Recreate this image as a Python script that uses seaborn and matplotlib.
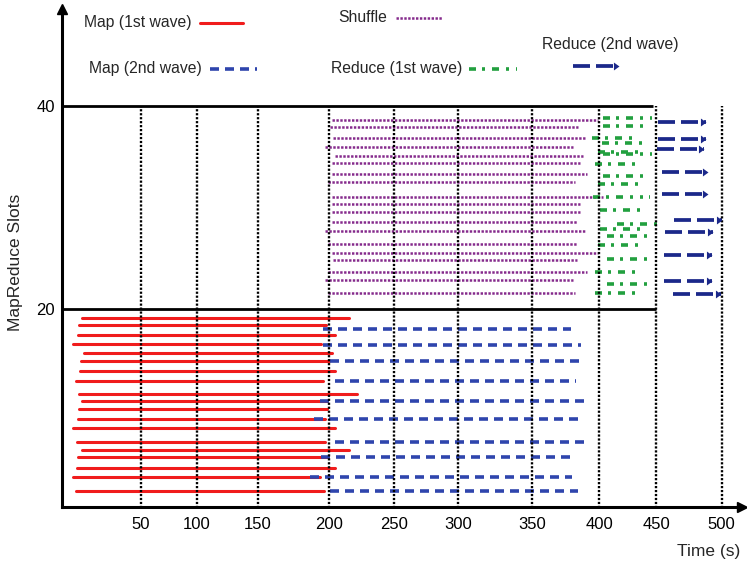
import numpy as np
import pandas as pd
import matplotlib
matplotlib.use("Agg")
import matplotlib.pyplot as plt
from matplotlib.lines import Line2D
from matplotlib.path import Path
import seaborn as sns

# ---------------- task timelines (time in s, slot index) ----------------
map1_slot = [19.08, 18.42, 17.43, 16.52, 15.63, 14.88, 13.86, 12.94, 11.60, 10.94,
             10.19, 9.17, 8.28, 6.90, 6.12, 5.41, 4.39, 3.50, 2.12]
map1_start = [12.4, 10.9, 10.2, 7.0, 13.8, 11.9, 11.3, 8.5, 10.9, 12.8,
              10.9, 10.2, 7.0, 9.6, 12.4, 10.2, 9.6, 6.6, 8.7]
map1_end = [215.6, 197.9, 204.6, 194.2, 202.1, 200.2, 204.6, 196.0, 221.8, 198.4,
            198.4, 197.2, 204.6, 197.2, 215.6, 198.4, 204.6, 193.7, 196.5]

map2_slot = [18.02, 16.45, 14.88, 12.94, 10.94, 9.14, 6.88, 5.41, 3.50, 2.09]
map2_start = [196.0, 196.0, 200.8, 204.6, 193.4, 189.6, 204.6, 194.2, 186.8, 200.8]
map2_end = [379.1, 386.5, 388.7, 382.8, 391.7, 388.0, 390.0, 379.1, 379.8, 384.3]

shuffle_slot = [38.57, 37.86, 36.77, 35.95, 35.06, 34.32, 33.26, 32.45, 31.03, 30.31,
                29.56, 28.57, 27.69, 26.35, 25.53, 24.81, 23.66, 22.84, 21.59]
shuffle_start = [202.1, 200.8, 203.3, 197.2, 204.6, 202.1, 202.1, 199.5, 202.1, 202.1,
                 202.1, 202.1, 197.2, 199.5, 202.1, 203.3, 199.5, 197.2, 199.5]
shuffle_end = [399.3, 384.5, 389.4, 380.8, 388.2, 385.7, 390.7, 382.0, 403.5, 385.7,
               385.7, 383.3, 389.4, 383.3, 399.3, 383.3, 390.7, 380.8, 382.0]

reduce1_slot = [38.74, 38.01, 36.83, 36.34, 35.46, 35.20, 34.22, 33.10, 32.25, 31.03,
                29.72, 28.35, 27.86, 27.17, 26.25, 24.91, 23.66, 22.42, 21.59]
reduce1_start = [403.5, 403.5, 394.4, 402.1, 399.3, 403.5, 396.8, 403.5, 399.3, 395.6,
                 400.6, 415.3, 400.6, 406.5, 399.3, 406.5, 396.8, 406.5, 396.8]
reduce1_end = [446.2, 444.7, 434.4, 443.2, 438.8, 446.2, 435.9, 444.7, 435.9, 444.7,
               441.8, 455.6, 441.8, 444.7, 440.3, 447.6, 437.4, 447.6, 437.4]

reduce2_slot = [38.35, 36.71, 35.72, 33.49, 31.27, 28.74, 27.56, 25.30, 22.77, 21.47]
reduce2_start = [451.8, 451.8, 451.0, 454.3, 454.3, 463.7, 456.8, 456.1, 456.1, 463.2]
reduce2_end = [487.8, 487.8, 486.5, 489.7, 489.7, 500.0, 493.0, 492.2, 492.2, 499.2]

phases = ["Map (1st wave)", "Map (2nd wave)", "Shuffle",
          "Reduce (1st wave)", "Reduce (2nd wave)"]

x_ticks = [50, 100, 150, 200, 250, 300, 350, 400, 450, 500]
x_tick_labels = [str(t) for t in x_ticks]
y_ticks = [20, 40]
y_tick_labels = ["20", "40"]
wave_bounds = [20, 40]

# hand-spaced time axis: screen offset (px) of every 50 s mark
knot_time = [-50, 0, 50, 100, 150, 200, 250, 300, 350, 400, 450, 500, 550]
knot_px = [-78.4, 0.0, 78.4, 134.4, 195.7, 266.7, 331.7, 395.4, 469.4,
           537.0, 593.7, 659.4, 725.1]


def t_forward(t):
    return np.interp(t, knot_time, knot_px)


def t_inverse(p):
    return np.interp(p, knot_px, knot_time)


# ---------------- long-form table ----------------
def segments(phase, starts, ends, slots):
    rows = []
    for i, (s, e, y) in enumerate(zip(starts, ends, slots)):
        rows.append(dict(phase=phase, task=f"{phase}#{i}", time=s, slot=y))
        rows.append(dict(phase=phase, task=f"{phase}#{i}", time=e, slot=y))
    return rows


df = pd.DataFrame(
    segments(phases[0], map1_start, map1_end, map1_slot)
    + segments(phases[1], map2_start, map2_end, map2_slot)
    + segments(phases[2], shuffle_start, shuffle_end, shuffle_slot)
    + segments(phases[3], reduce1_start, reduce1_end, reduce1_slot)
    + segments(phases[4], reduce2_start, reduce2_end, reduce2_slot)
)

# ---------------- styling ----------------
sns.set_theme(style="white")
plt.rcParams["font.family"] = ["Liberation Sans", "DejaVu Sans"]

W, H = 747, 564
PT = 0.72  # points per pixel at 100 dpi


def dash(px_pattern, lw):
    return (0, tuple(p * PT / lw for p in px_pattern))


styles = {
    "Map (1st wave)": dict(color="#f01c1c", lw=2.2, ls="-"),
    "Map (2nd wave)": dict(color="#2f45ad", lw=2.6, ls=dash([9.0, 6.0], 2.6)),
    "Shuffle": dict(color="#852a8c", lw=1.8, ls=dash([2.4, 1.5], 1.8)),
    "Reduce (1st wave)": dict(color="#22a03f", lw=2.6,
                              ls=dash([7, 6, 3, 7, 7, 7, 3, 7, 3, 6], 2.6)),
    "Reduce (2nd wave)": dict(color="#1b288a", lw=2.7, ls=dash([17, 6], 2.7)),
}

# arrow head with its tip at the data point
head = Path([(0.0, 0.0), (-0.7, 0.5), (-0.7, -0.5), (0.0, 0.0)],
            [Path.MOVETO, Path.LINETO, Path.LINETO, Path.CLOSEPOLY])

fig = plt.figure(figsize=(W / 100, H / 100), dpi=100)
ax_left, ax_right, ax_bottom_px, ax_top_px = 62.3, 742.0, 506.7, 9.0
ax = fig.add_axes([ax_left / W, 1 - ax_bottom_px / H,
                   (ax_right - ax_left) / W, (ax_bottom_px - ax_top_px) / H])
ax.set_xscale("function", functions=(t_forward, t_inverse))

for ph in phases:
    st = styles[ph]
    sns.lineplot(data=df[df["phase"] == ph], x="time", y="slot", units="task",
                 estimator=None, sort=False, color=st["color"], linewidth=st["lw"],
                 linestyle=st["ls"], ax=ax, legend=False, zorder=2)

sns.scatterplot(x=reduce2_end, y=reduce2_slot, marker=head, s=64,
                color=styles["Reduce (2nd wave)"]["color"], linewidth=0,
                ax=ax, zorder=4, legend=False)

# dotted time grid and the wave boxes
ax.vlines(x_ticks, 0, 40, colors="black", linewidth=1.7,
          linestyles=[(0, (0.93, 0.75))], zorder=3)
ax.hlines(wave_bounds, 0, [450, 447], colors="black", linewidth=2.0, zorder=3)

ax.set_xlim(0, 515.4)
ax.set_ylim(0.55, 49.49)
ax.set_xticks(x_ticks)
ax.set_xticklabels(x_tick_labels)
ax.set_yticks(y_ticks)
ax.set_yticklabels(y_tick_labels)
ax.minorticks_off()
ax.tick_params(axis="x", length=0, labelsize=12, pad=7.2, colors="black")
ax.tick_params(axis="y", length=0, labelsize=12, pad=5.5, colors="black")
ax.set_xlabel("")
ax.set_ylabel("")
for side in ("top", "right"):
    ax.spines[side].set_visible(False)
for side in ("left", "bottom"):
    ax.spines[side].set_color("black")
    ax.spines[side].set_linewidth(2.2)
ax.plot([1], [0], marker=">", ms=7, color="black", transform=ax.transAxes,
        clip_on=False, zorder=5)
ax.plot([0], [1], marker="^", ms=7, color="black", transform=ax.transAxes,
        clip_on=False, zorder=5)

fig.text(16 / W, 1 - 262 / H, "MapReduce Slots", rotation=90, ha="center",
         va="center", fontsize=12.5)
fig.text(740 / W, 1 - 556 / H, "Time (s)", ha="right", va="baseline", fontsize=12.5)

# legend keys scattered above the chart
legend_layout = {
    "Map (1st wave)": ((84, 22), (200, 243, 23)),
    "Shuffle": ((338, 18), (396, 442, 18)),
    "Reduce (2nd wave)": ((542, 45), (573, 619, 66)),
    "Map (2nd wave)": ((89, 69), (210, 257, 69)),
    "Reduce (1st wave)": ((331, 69), (469, 517, 69)),
}
for ph, ((tx, ty), (x0, x1, ly)) in legend_layout.items():
    st = styles[ph]
    fig.text(tx / W, 1 - ty / H, ph, ha="left", va="center", fontsize=11.3)
    fig.add_artist(Line2D([x0 / W, x1 / W], [1 - ly / H, 1 - ly / H],
                          transform=fig.transFigure, color=st["color"],
                          linewidth=st["lw"], linestyle=st["ls"]))
    if ph == "Reduce (2nd wave)":
        fig.add_artist(Line2D([x1 / W], [1 - ly / H], transform=fig.transFigure,
                              marker=head, markersize=8, linestyle="none",
                              color=st["color"], markeredgewidth=0))

fig.savefig("out.png", dpi=100, facecolor="white")
